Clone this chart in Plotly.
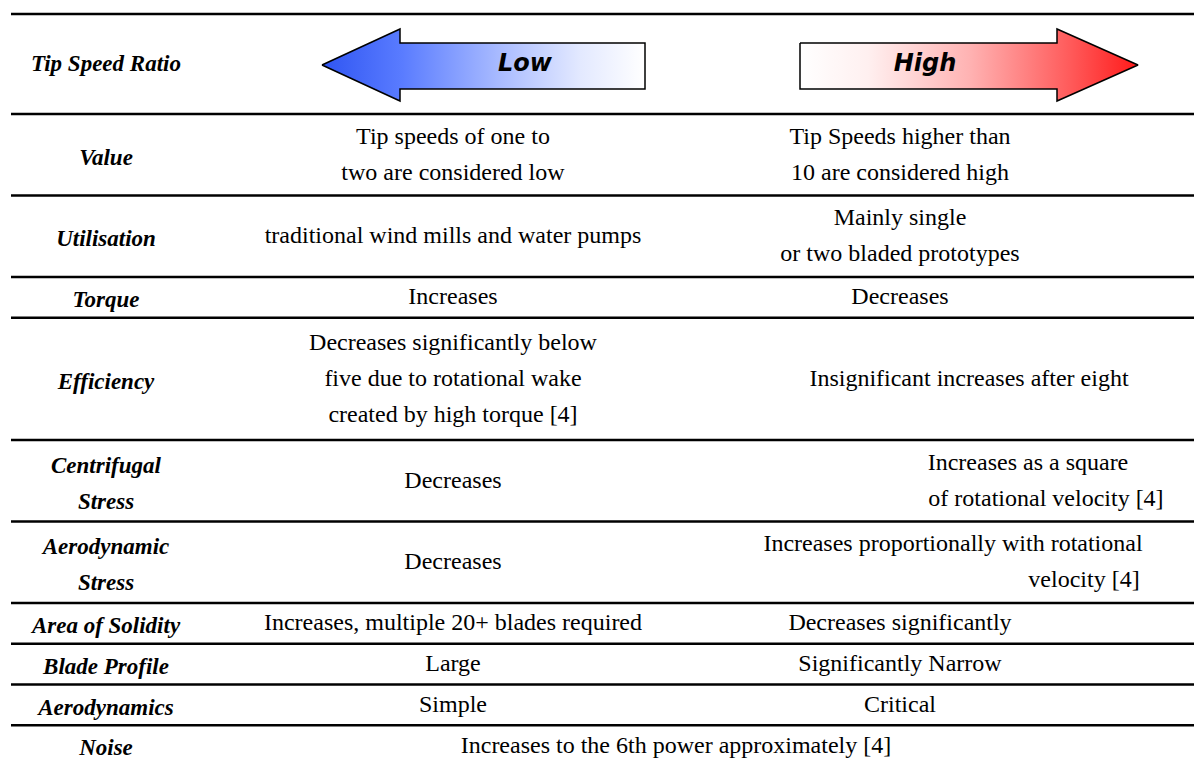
import plotly.graph_objects as go

# ---------------- data ----------------
header_label = "Tip Speed Ratio"
low_label = "Low"
high_label = "High"

row_labels = [
    ["Value"], ["Utilisation"], ["Torque"], ["Efficiency"],
    ["Centrifugal", "Stress"], ["Aerodynamic", "Stress"],
    ["Area of Solidity"], ["Blade Profile"], ["Aerodynamics"], ["Noise"],
]
low_text = [
    ["Tip speeds of one to", "two are considered low"],
    ["traditional wind mills and water pumps"],
    ["Increases"],
    ["Decreases significantly below", "five due to rotational wake", "created by high torque [4]"],
    ["Decreases"],
    ["Decreases"],
    ["Increases, multiple 20+ blades required"],
    ["Large"],
    ["Simple"],
    ["Increases to the 6th power approximately [4]"],
]
high_text = [
    ["Tip Speeds higher than", "10 are considered high"],
    ["Mainly single", "or two bladed prototypes"],
    ["Decreases"],
    ["Insignificant increases after eight"],
    ["Increases as a square", "of rotational velocity [4]"],
    ["Increases proportionally with rotational", "velocity [4]"],
    ["Decreases significantly"],
    ["Significantly Narrow"],
    ["Critical"],
    [],
]
merged_rows = [9]  # Noise row spans both columns

# ---------------- layout constants ----------------
W, H = 1202, 764
PAGE_MARGIN = 8          # default <body> margin of the html page
X_LEFT = 11
TOP_LINE = 14
HEADER_BOTTOM = 114
LINE_H = 40.75
TEXT_GAP = 36
LABEL_X = 106
LOW_X = 453
HIGH_X = 900
MERGED_X = 676
# per-line horizontal centres for the cells that are not centred in the column
high_line_x = {3: [969], 4: [1028, 1046], 5: [953, 1084]}

SERIF = "Liberation Serif, Times New Roman, serif"
SANS = "DejaVu Sans, Verdana, sans-serif"
FS_BODY = 24
FS_LABEL = 23

n_lines = [max(len(a), len(b), len(c)) for a, b, c in zip(row_labels, low_text, high_text)]
bounds = [HEADER_BOTTOM]
for n in n_lines:
    bounds.append(bounds[-1] + n * LINE_H)

fig = go.Figure()

# ---------------- arrows ----------------
ay = 65
L_TIP, L_BASE, L_END = 322, 400, 645
R_START, R_BASE, R_TIP = 800, 1057, 1138
HEAD_UP, HEAD_DN, SH_UP, SH_DN = 36, 36, 22, 24
left_arrow_x = [L_TIP, L_BASE, L_BASE, L_END, L_END, L_BASE, L_BASE, L_TIP]
left_arrow_y = [ay, ay - HEAD_UP, ay - SH_UP, ay - SH_UP, ay + SH_DN, ay + SH_DN, ay + HEAD_DN, ay]
right_arrow_x = [R_START, R_BASE, R_BASE, R_TIP, R_BASE, R_BASE, R_START, R_START]
right_arrow_y = [ay - SH_UP, ay - SH_UP, ay - HEAD_UP, ay, ay + HEAD_DN, ay + SH_DN, ay + SH_DN, ay - SH_UP]

fig.add_trace(go.Scatter(
    x=left_arrow_x, y=left_arrow_y, mode="lines", fill="toself",
    line=dict(color="black", width=1.5),
    fillgradient=dict(type="horizontal", start=L_TIP, stop=L_END,
                      colorscale=[[0, "#2f55f2"], [0.25, "#5a7cff"], [0.55, "#a9bbff"],
                                  [0.8, "#e3e9ff"], [1, "#ffffff"]]),
    hoverinfo="skip", showlegend=False))
fig.add_trace(go.Scatter(
    x=right_arrow_x, y=right_arrow_y, mode="lines", fill="toself",
    line=dict(color="black", width=1.5),
    fillgradient=dict(type="horizontal", start=R_START, stop=R_TIP,
                      colorscale=[[0, "#ffffff"], [0.2, "#fff0f0"], [0.5, "#ffb3b3"],
                                  [0.8, "#ff5a5a"], [1, "#ff1a1a"]]),
    hoverinfo="skip", showlegend=False))

fig.add_trace(go.Scatter(
    x=[525, 925], y=[ay, ay], mode="text", text=[low_label, high_label],
    textfont=dict(family=SANS, size=24, color="black", weight="bold", style="italic"),
    hoverinfo="skip", showlegend=False))

# ---------------- text ----------------
lx, ly, lt = [LABEL_X], [ay], [header_label]
bx, by, bt = [], [], []
for i, n in enumerate(n_lines):
    top, bot = bounds[i], bounds[i + 1]
    mid = (top + bot) / 2
    labs = row_labels[i]
    for k, s in enumerate(labs):
        lx.append(LABEL_X)
        ly.append(mid + 4 + (k - (len(labs) - 1) / 2) * TEXT_GAP)
        lt.append(s)
    lows = low_text[i]
    cx = MERGED_X if i in merged_rows else LOW_X
    for k, s in enumerate(lows):
        bx.append(cx)
        by.append(mid + 1 + (k - (len(lows) - 1) / 2) * TEXT_GAP)
        bt.append(s)
    highs = high_text[i]
    for k, s in enumerate(highs):
        xs = high_line_x.get(i, [HIGH_X] * len(highs))
        bx.append(xs[k])
        by.append(mid + 1 + (k - (len(highs) - 1) / 2) * TEXT_GAP)
        bt.append(s)

fig.add_trace(go.Scatter(
    x=lx, y=ly, mode="text", text=lt,
    textfont=dict(family=SERIF, size=FS_LABEL, color="black", weight="bold", style="italic"),
    hoverinfo="skip", showlegend=False))
fig.add_trace(go.Scatter(
    x=bx, y=by, mode="text", text=bt,
    textfont=dict(family=SERIF, size=FS_BODY, color="black"),
    hoverinfo="skip", showlegend=False))

# ---------------- rules ----------------
rule_y = [TOP_LINE] + bounds[:-1]
for y in rule_y:
    fig.add_shape(type="line", x0=X_LEFT, x1=W, y0=y, y1=y,
                  line=dict(color="black", width=2.5), layer="below")

# the page adds an 8 px margin; offset the axes so data units equal screen pixels
fig.update_layout(
    width=W - PAGE_MARGIN, height=H - PAGE_MARGIN, margin=dict(l=0, r=0, t=0, b=0),
    paper_bgcolor="white", plot_bgcolor="white",
    xaxis=dict(range=[PAGE_MARGIN, W], visible=False, fixedrange=True),
    yaxis=dict(range=[H, PAGE_MARGIN], visible=False, fixedrange=True),
    showlegend=False,
)
fig.write_html("out.html", config={"displayModeBar": False})
